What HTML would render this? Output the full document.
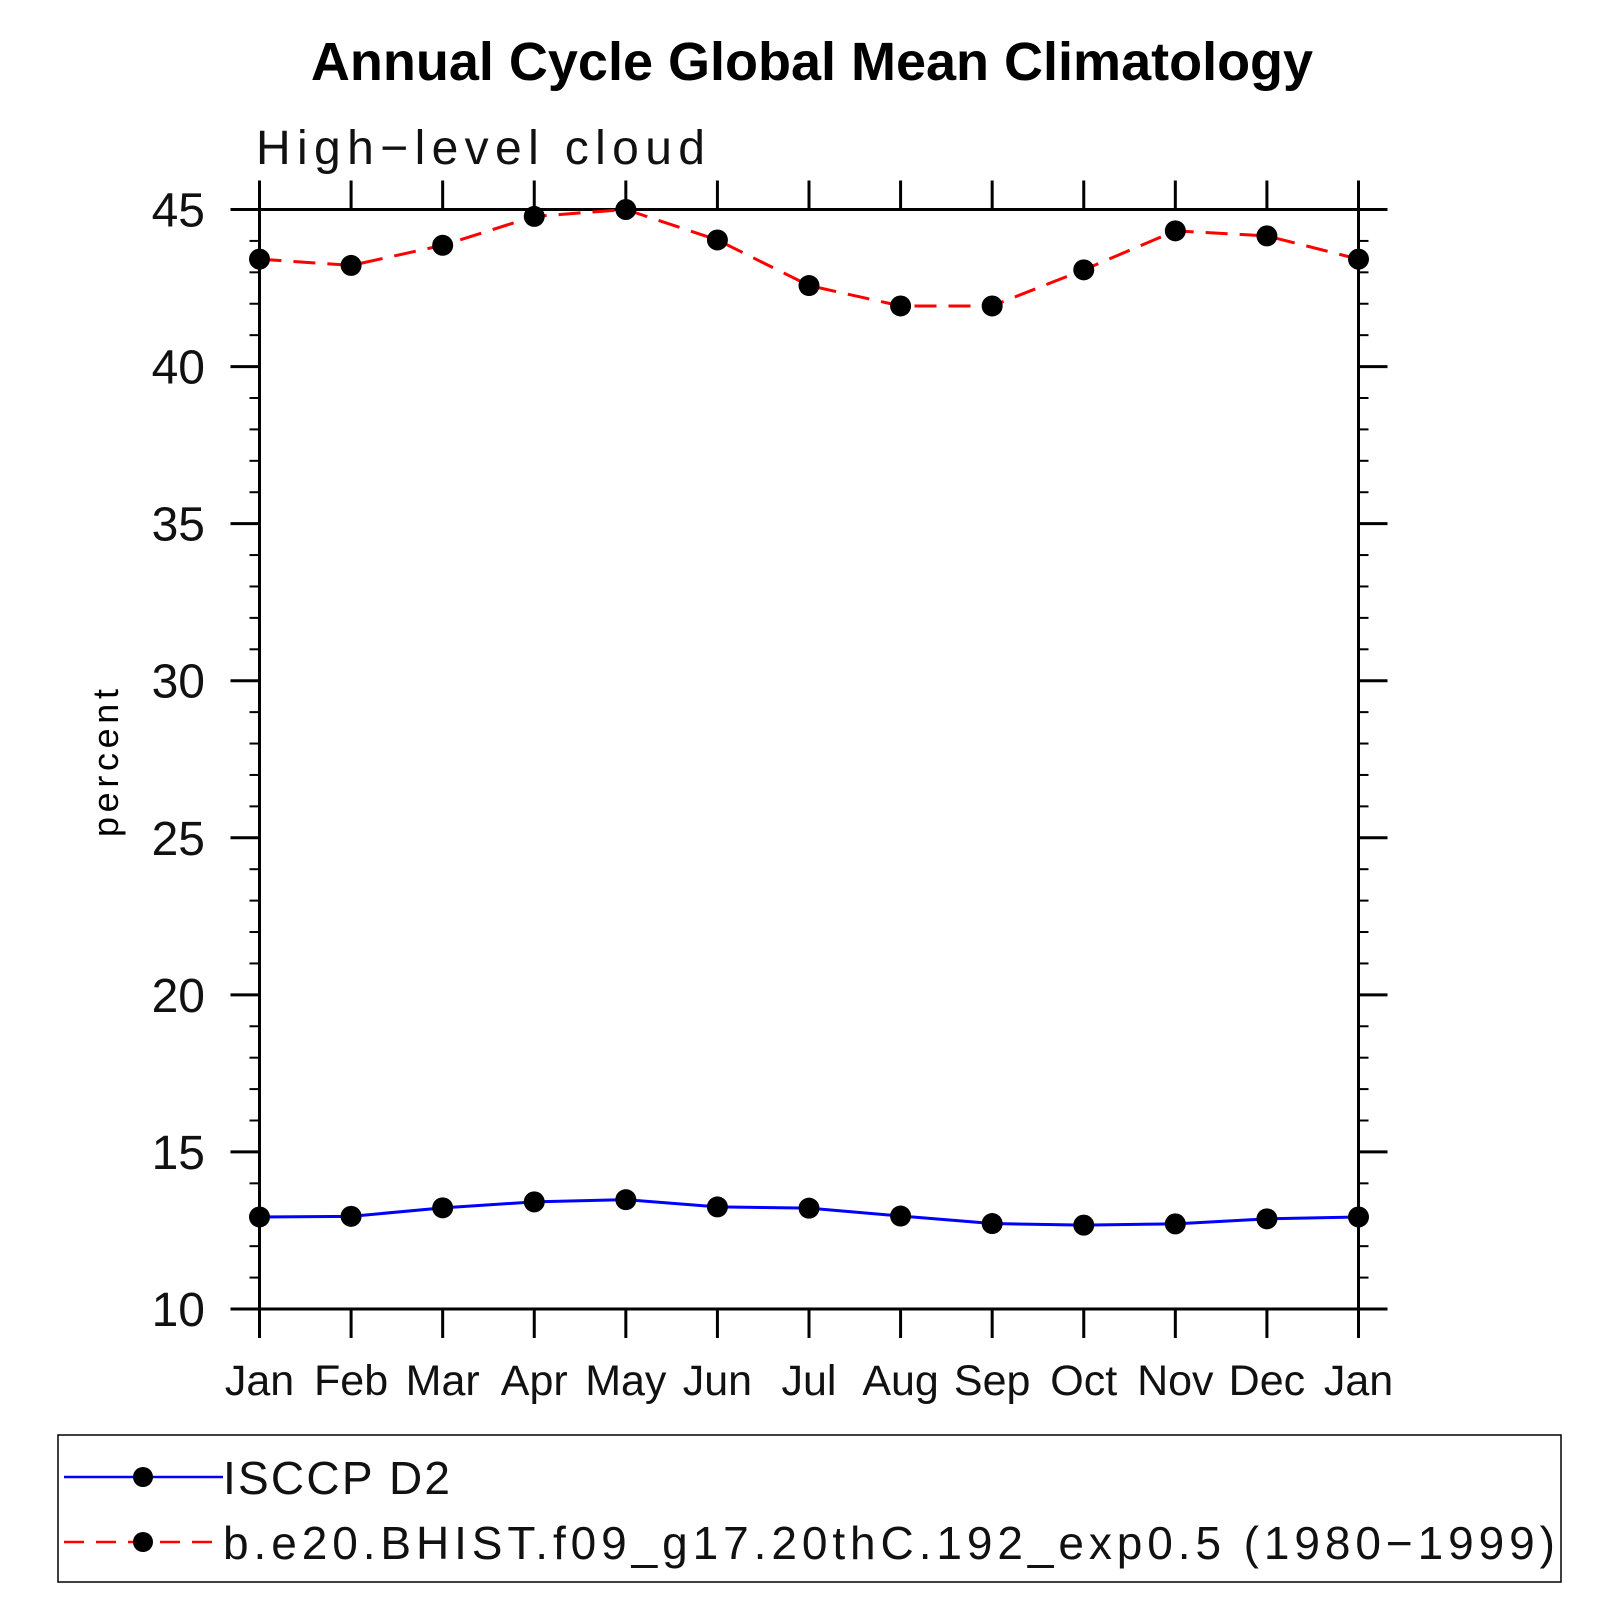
<!DOCTYPE html>
<html><head><meta charset="utf-8"><style>html,body{margin:0;padding:0;background:#fff}svg{display:block}text{font-family:"Liberation Sans",sans-serif}</style></head>
<body>
<svg id="chart" xmlns="http://www.w3.org/2000/svg" width="1619" height="1619" viewBox="0 0 1619 1619">
<text x="812" y="80" font-size="54" font-weight="bold" text-anchor="middle">Annual Cycle Global Mean Climatology</text>
<text x="256" y="164" font-size="48" textLength="449" fill="#111">High−level cloud</text>
<text transform="translate(118,763) rotate(-90)" font-size="36" textLength="148" text-anchor="middle">percent</text>
<g id="axes"></g>
<g id="series"></g>
<g>
<rect x="58" y="1435" width="1503" height="147" fill="none" stroke="#000" stroke-width="1.5"/>
<g>
<line x1="64" y1="1477" x2="223" y2="1477" stroke="#00f" stroke-width="2.5"/>
<circle cx="143" cy="1477" r="10" fill="#000"/>
<text x="223" y="1494" font-size="46" textLength="227" fill="#111">ISCCP D2</text>
</g>
<g>
<line x1="64" y1="1542" x2="223" y2="1542" stroke="#f00" stroke-width="2.5" stroke-dasharray="20,12"/>
<circle cx="143" cy="1542" r="10" fill="#000"/>
<text x="223" y="1559" font-size="46" textLength="1332" fill="#111">b.e20.BHIST.f09_g17.20thC.192_exp0.5 (1980−1999)</text>
</g>
</g>
</svg>
<script>
const months = ["Jan","Feb","Mar","Apr","May","Jun","Jul","Aug","Sep","Oct","Nov","Dec","Jan"];
const isccpValues = [12.93,12.95,13.22,13.41,13.48,13.25,13.21,12.96,12.72,12.67,12.71,12.87,12.93];
const modelValues = [43.42,43.22,43.86,44.78,45.0,44.03,42.58,41.93,41.93,43.08,44.32,44.16,43.42];
const yTicks = [10,15,20,25,30,35,40,45];
const yMin = 10, yMax = 45;
const L = 259.5, R = 1358.5, T = 209.5, B = 1309;
const NS = "http://www.w3.org/2000/svg";
function xs(i){ return L + (R - L) * i / (months.length - 1); }
function ys(v){ return B - (B - T) * (v - yMin) / (yMax - yMin); }
function mk(tag, attrs, parent){ const e = document.createElementNS(NS, tag); for (const k in attrs) e.setAttribute(k, attrs[k]); parent.appendChild(e); return e; }
const axes = document.getElementById('axes');
const series = document.getElementById('series');
const frame = mk('rect', {x:L, y:T, width:R-L, height:B-T, fill:'none', stroke:'#000', 'stroke-width':3}, axes);


for (let v = yMin; v <= yMax; v++) {
  const y = ys(v);
  const major = yTicks.includes(v);
  const len = major ? 29 : 10;
  const t1 = mk('line', {x1:L-len, y1:y, x2:L, y2:y, stroke:'#000', 'stroke-width':major?3:2}, axes);
  
  
  const t2 = mk('line', {x1:R, y1:y, x2:R+len, y2:y, stroke:'#000', 'stroke-width':major?3:2}, axes);
  
  
}
yTicks.forEach(v => {
  const t = mk('text', {x:205, y:ys(v)+17, 'font-size':48, 'text-anchor':'end', fill:'#111'}, axes);
  t.textContent = v;
  
  
});
months.forEach((m, i) => {
  const x = xs(i);
  const a = mk('line', {x1:x, y1:B, x2:x, y2:B+29, stroke:'#000', 'stroke-width':3}, axes);
  
  
  const b = mk('line', {x1:x, y1:T-29, x2:x, y2:T, stroke:'#000', 'stroke-width':3}, axes);
  
  
  const t = mk('text', {x:x, y:1395, 'font-size':43, 'text-anchor':'middle', fill:'#111'}, axes);
  t.textContent = m;
  
  
});
function drawSeries(vals, color, dash, name){
  const pts = vals.map((v, i) => xs(i) + ',' + ys(v)).join(' ');
  const pl = mk('polyline', {points:pts, fill:'none', stroke:color, 'stroke-width':3}, series);
  if (dash) pl.setAttribute('stroke-dasharray', dash);
  
  
  vals.forEach((v, i) => {
    const c = mk('circle', {cx:xs(i), cy:ys(v), r:10.5, fill:'#000'}, series);
    
    
  });
}
drawSeries(isccpValues, '#00f', null, 'isccp');
drawSeries(modelValues, '#f00', '22,12', 'model');
</script>
</body></html>
